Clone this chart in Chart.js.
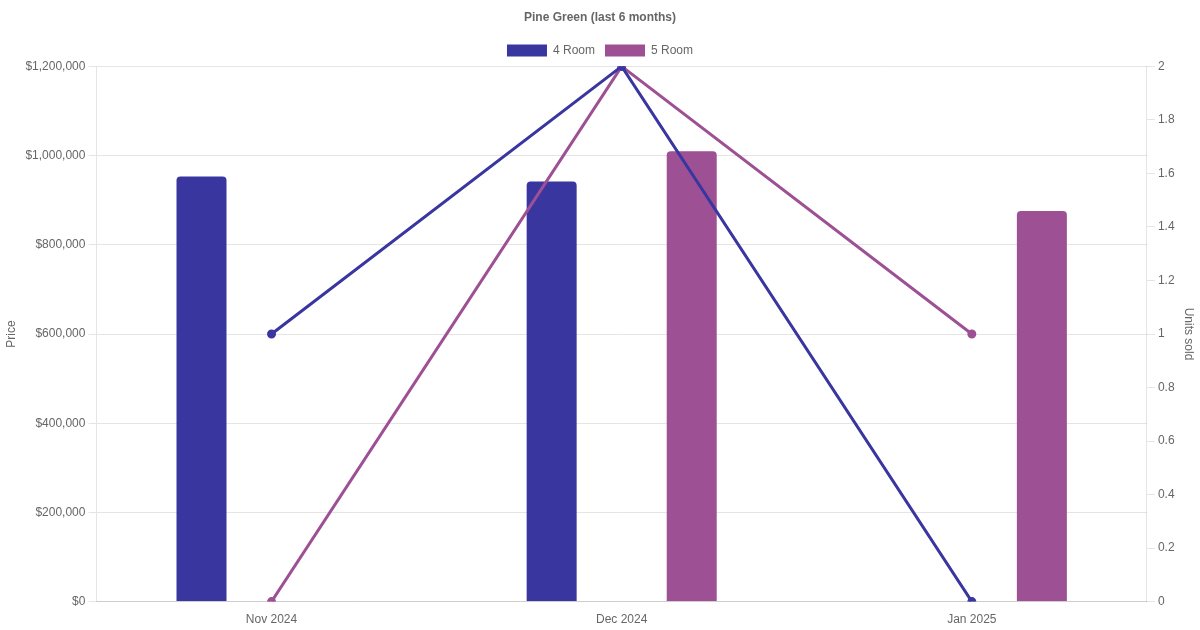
<!DOCTYPE html>
<html>
<head>
<meta charset="utf-8">
<script src="https://cdn.jsdelivr.net/npm/chart.js@4"></script>
<style>
  html, body { margin: 0; padding: 0; background: #fff; }
  #wrap { width: 1200px; height: 630px; }
</style>
</head>
<body>
<div id="wrap"><canvas id="my-chart"></canvas></div>
<script>
const months = ["Nov 2024", "Dec 2024", "Jan 2025"];
const price4Room = [953000, 942000, null];
const price5Room = [null, 1010000, 876000];
const units4Room = [1, 2, 0];
const units5Room = [0, 2, 1];

const BLUE = "rgb(58, 54, 160)";
const PURPLE = "rgb(158, 80, 148)";

const money = (v) => "$" + Number(v).toLocaleString("en-US");

const chartContainer = document.getElementById("my-chart");

new Chart(chartContainer, {
  type: "bar",
  data: {
    labels: months,
    datasets: [
      {
        label: "4 Room",
        data: price4Room,
        backgroundColor: BLUE,
        borderColor: BLUE,
        borderRadius: 4,
        maxBarThickness: 50,
        yAxisID: "y",
        order: 2,
      },
      {
        label: "5 Room",
        data: price5Room,
        backgroundColor: PURPLE,
        borderColor: PURPLE,
        borderRadius: 4,
        maxBarThickness: 50,
        yAxisID: "y",
        order: 2,
      },
      {
        type: "line",
        label: "4 Room units",
        data: units4Room,
        borderColor: BLUE,
        backgroundColor: BLUE,
        borderWidth: 3,
        pointRadius: 3,
        tension: 0,
        yAxisID: "y1",
        order: 1,
      },
      {
        type: "line",
        label: "5 Room units",
        data: units5Room,
        borderColor: PURPLE,
        backgroundColor: PURPLE,
        borderWidth: 3,
        pointRadius: 3,
        tension: 0,
        yAxisID: "y1",
        order: 1,
      },
    ],
  },
  options: {
    responsive: true,
    maintainAspectRatio: false,
    animation: false,
    plugins: {
      title: {
        display: true,
        text: "Pine Green (last 6 months)",
        color: "#666",
        font: { size: 12, weight: "bold" },
      },
      legend: {
        labels: {
          color: "#666",
          boxWidth: 40,
          font: { size: 12 },
          filter: (item, data) => data.datasets[item.datasetIndex].type !== "line",
        },
      },
    },
    scales: {
      x: {
        grid: { display: false },
        ticks: { color: "#666" },
      },
      y: {
        position: "left",
        min: 0,
        max: 1200000,
        ticks: { stepSize: 200000, color: "#666", callback: money },
        title: { display: true, text: "Price", color: "#666" },
      },
      y1: {
        position: "right",
        min: 0,
        max: 2,
        ticks: { stepSize: 0.2, color: "#666", callback: (v) => String(Math.round(v * 10) / 10) },
        grid: { drawOnChartArea: false },
        title: { display: true, text: "Units sold", color: "#666" },
      },
    },
  },
});
</script>
</body>
</html>
